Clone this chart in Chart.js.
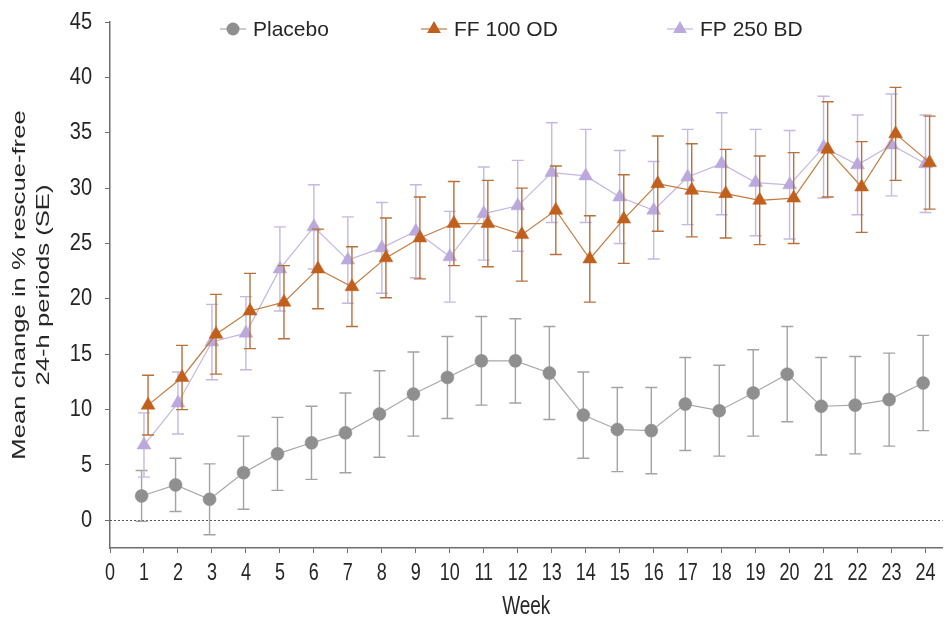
<!DOCTYPE html>
<html><head><meta charset="utf-8">
<script src="https://cdn.jsdelivr.net/npm/chart.js@4.4.0/dist/chart.umd.min.js"></script>
<style>html,body{margin:0;padding:0;background:#fff}#wrap{width:951px;height:621px}</style>
</head><body><div id="wrap"><canvas id="c" width="951" height="621"></canvas></div>
<script>
// ---- data ----
const weeks = [1,2,3,4,5,6,7,8,9,10,11,12,13,14,15,16,17,18,19,20,21,22,23,24];
const xTicks = [0,1,2,3,4,5,6,7,8,9,10,11,12,13,14,15,16,17,18,19,20,21,22,23,24];
const yTicks = [0,5,10,15,20,25,30,35,40,45];
const seriesNames = ['Placebo','FF 100 OD','FP 250 BD'];
const xTitle = 'Week';
const yTitle = ['Mean change in % rescue-free','24-h periods (SE)'];
const placebo   = [2.2,3.2,1.9,4.3,6.0,7.0,7.9,9.6,11.4,12.9,14.4,14.4,13.3,9.5,8.2,8.1,10.5,9.9,11.5,13.2,10.3,10.4,10.9,12.4];
const placeboSE = [2.3,2.4,3.2,3.3,3.3,3.3,3.6,3.9,3.8,3.7,4.0,3.8,4.2,3.9,3.8,3.9,4.2,4.1,3.9,4.3,4.4,4.4,4.2,4.3];
const ff100     = [10.4,12.9,16.8,18.9,19.7,22.7,21.1,23.7,25.5,26.8,26.8,25.8,28.0,23.6,27.2,30.4,29.8,29.5,28.9,29.1,33.5,30.1,34.9,32.3];
const ff100SE   = [2.7,2.9,3.6,3.4,3.3,3.6,3.6,3.6,3.7,3.8,3.9,4.2,4.0,3.9,4.0,4.3,4.2,4.0,4.0,4.1,4.3,4.1,4.2,4.2];
const fp250     = [6.8,10.6,16.1,16.9,22.7,26.5,23.5,24.6,26.1,23.8,27.7,28.4,31.4,31.1,29.2,28.0,31.0,32.2,30.5,30.3,33.7,32.1,33.9,32.2];
const fp250SE   = [2.9,2.8,3.4,3.3,3.8,3.8,3.9,4.1,4.2,4.1,4.2,4.1,4.5,4.2,4.2,4.4,4.3,4.6,4.8,4.9,4.6,4.5,4.6,4.4];

// ---- style ----
const FONT = "'Liberation Sans', Arial, Helvetica, sans-serif";
const TEXT = '#262626';
const AXIS = '#6e6e6e';
const dodge = [-0.07, 0.12, 0.0];

function pts(vals, d){ return weeks.map((w,i)=>({x:w+d, y:vals[i]})); }

const errorBars = {
  id:'errorBars',
  beforeDatasetDraw(chart, args){
    const ds = chart.data.datasets[args.index];
    if(!ds.errors) return;
    const xs = chart.scales.x, ys = chart.scales.y, ctx = chart.ctx;
    ctx.save();
    ctx.strokeStyle = ds.errorColor; ctx.lineWidth = 1.4;
    ds.data.forEach((p,i)=>{
      const px = xs.getPixelForValue(p.x);
      const t = ys.getPixelForValue(p.y + ds.errors[i]);
      const b = ys.getPixelForValue(p.y - ds.errors[i]);
      ctx.beginPath();
      ctx.moveTo(px,t); ctx.lineTo(px,b);
      ctx.moveTo(px-6,t); ctx.lineTo(px+6,t);
      ctx.moveTo(px-6,b); ctx.lineTo(px+6,b);
      ctx.stroke();
    });
    ctx.restore();
  }
};

const zeroLine = {
  id:'zeroLine',
  beforeDatasetsDraw(chart){
    const ys = chart.scales.y, a = chart.chartArea, ctx = chart.ctx;
    const py = Math.round(ys.getPixelForValue(0)) + 0.5;
    ctx.save(); ctx.strokeStyle = '#555'; ctx.lineWidth = 1; ctx.setLineDash([2,2]);
    ctx.beginPath(); ctx.moveTo(a.left, py); ctx.lineTo(a.right, py); ctx.stroke();
    ctx.restore();
  }
};

function marker(ctx, style, x, y, r, color){
  ctx.fillStyle = color;
  ctx.beginPath();
  if(style === 'circle'){ ctx.arc(x,y,r,0,Math.PI*2); }
  else {
    ctx.moveTo(x, y - r);
    ctx.lineTo(x + r*Math.sin(2*Math.PI/3), y - r*Math.cos(2*Math.PI/3));
    ctx.lineTo(x + r*Math.sin(4*Math.PI/3), y - r*Math.cos(4*Math.PI/3));
    ctx.closePath();
  }
  ctx.fill();
}

const customLegend = {
  id:'customLegend',
  afterDraw(chart, args, opts){
    const ctx = chart.ctx;
    ctx.save();
    ctx.font = opts.size + 'px ' + FONT;
    ctx.textBaseline = 'middle';
    opts.starts.forEach((sx, i)=>{
      const ds = chart.data.datasets[i];
      const y = opts.y;
      ctx.strokeStyle = ds.borderColor; ctx.lineWidth = 1.2;
      ctx.beginPath(); ctx.moveTo(sx, y); ctx.lineTo(sx + opts.lineLen, y); ctx.stroke();
      marker(ctx, ds.pointStyle, sx + opts.lineLen/2, y, ds.pointRadius, ds.pointBackgroundColor);
      ctx.fillStyle = TEXT;
      ctx.fillText(ds.label, sx + opts.lineLen + opts.gap, y + 1);
    });
    ctx.restore();
  }
};

// axis texts (tick labels and titles), placed with the library's scales; the
// reference renders them vertically stretched, so they are drawn with a scale transform
const axisText = {
  id:'axisText',
  afterDraw(chart, args, o){
    const ctx = chart.ctx, xs = chart.scales.x, ys = chart.scales.y, a = chart.chartArea;
    ctx.save();
    ctx.fillStyle = TEXT;
    ctx.textBaseline = 'middle';
    // x tick labels
    ctx.font = o.xTickSize + 'px ' + FONT; ctx.textAlign = 'center';
    xTicks.forEach(v=>{
      ctx.save(); ctx.translate(xs.getPixelForValue(v), a.bottom + o.xTickOffset);
      ctx.scale(1, o.stretch); ctx.fillText(String(v), 0, 0); ctx.restore();
    });
    // y tick labels
    ctx.font = o.yTickSize + 'px ' + FONT; ctx.textAlign = 'right';
    yTicks.forEach(v=>{
      ctx.save(); ctx.translate(a.left - o.yTickOffset, ys.getPixelForValue(v));
      ctx.scale(1, o.yStretch); ctx.fillText(String(v), 0, 0); ctx.restore();
    });
    // x title
    ctx.font = o.titleSize + 'px ' + FONT; ctx.textAlign = 'center';
    ctx.save(); ctx.translate((a.left + a.right)/2, a.bottom + o.xTitleOffset);
    ctx.scale(1, o.stretch); ctx.fillText(xTitle, 0, 0); ctx.restore();
    // y title (rotated)
    yTitle.forEach((line, i)=>{
      ctx.save(); ctx.translate(o.yTitleX[i], (a.top + a.bottom)/2);
      ctx.rotate(-Math.PI/2); ctx.scale(o.stretch, 1);
      ctx.fillText(line, 0, 0); ctx.restore();
    });
    ctx.restore();
  }
};

const chart = new Chart(document.getElementById('c'), {
  type:'line',
  data:{
    datasets:[
      {label:seriesNames[0], data:pts(placebo,dodge[0]), errors:placeboSE, errorColor:'#a3a3a3',
       borderColor:'#a8a8a8', borderWidth:1.2, pointStyle:'circle', pointRadius:6.5,
       pointBackgroundColor:'#8f8f8f', pointBorderColor:'#8f8f8f', pointBorderWidth:0.5, order:3},
      {label:seriesNames[1], data:pts(ff100,dodge[1]), errors:ff100SE, errorColor:'#b8703a',
       borderColor:'#c47a3e', borderWidth:1.2, pointStyle:'triangle', pointRadius:8,
       pointBackgroundColor:'#c0601c', pointBorderColor:'#c0601c', pointBorderWidth:0.5, order:1},
      {label:seriesNames[2], data:pts(fp250,dodge[2]), errors:fp250SE, errorColor:'#c6b8df',
       borderColor:'#c4b6e0', borderWidth:1.2, pointStyle:'triangle', pointRadius:8,
       pointBackgroundColor:'#baa9da', pointBorderColor:'#baa9da', pointBorderWidth:0.5, order:2}
    ]
  },
  options:{
    responsive:false, animation:false, events:[],
    layout:{padding:{top:22,right:1,left:0,bottom:0}},
    elements:{line:{tension:0}},
    plugins:{
      legend:{display:false}, tooltip:{enabled:false},
      customLegend:{starts:[220,421,667], y:29, lineLen:26, gap:7, size:21},
      axisText:{stretch:1.35, yStretch:1.2, xTickSize:18, yTickSize:20, titleSize:19,
                xTickOffset:25, yTickOffset:18, xTitleOffset:59, yTitleX:[20,44]}
    },
    scales:{
      x:{type:'linear', min:0, max:24.5,
        afterBuildTicks:s=>{s.ticks = xTicks.map(v=>({value:v}));},
        afterFit:s=>{s.height = 73;},
        border:{display:true, color:AXIS, width:1.5},
        grid:{drawOnChartArea:false, drawTicks:true, tickLength:5, color:AXIS, tickWidth:1},
        ticks:{display:false}
      },
      y:{type:'linear', min:-2.5, max:45,
        afterBuildTicks:s=>{s.ticks = yTicks.map(v=>({value:v}));},
        afterFit:s=>{s.width = 110;},
        border:{display:true, color:AXIS, width:1.5},
        grid:{drawOnChartArea:false, drawTicks:true, tickLength:5, color:AXIS, tickWidth:1},
        ticks:{display:false}
      }
    }
  },
  plugins:[errorBars, zeroLine, customLegend, axisText]
});
</script></body></html>
